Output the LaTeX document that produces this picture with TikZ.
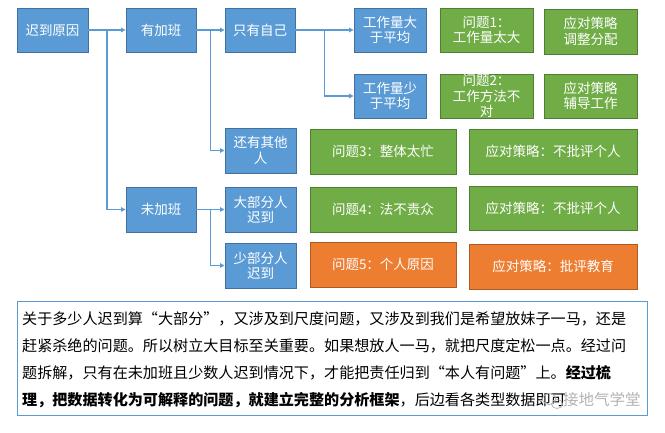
\documentclass[tikz,border=0pt]{standalone}
\usepackage{fontspec}
\setmainfont{Liberation Sans}
\newfontfamily\cjk{Noto Sans CJK SC}
\usetikzlibrary{arrows.meta,calc}
\definecolor{bfill}{RGB}{91,155,213}
\definecolor{bline}{RGB}{65,113,156}
\definecolor{gfill}{RGB}{112,173,71}
\definecolor{gline}{RGB}{80,126,50}
\definecolor{ofill}{RGB}{237,125,49}
\definecolor{oline}{RGB}{174,90,33}
\definecolor{conncol}{RGB}{91,155,213}
\tikzset{
  boxbase/.style={draw, line width=0.9pt, text=white, align=center, inner sep=0pt,
    font=\cjk\fontsize{13.5}{15.5}\selectfont, minimum height=44pt},
  bluebox/.style={boxbase, fill=bfill, draw=bline},
  greenbox/.style={boxbase, fill=gfill, draw=gline},
  orangebox/.style={boxbase, fill=ofill, draw=oline},
  conn/.style={draw=conncol, line width=1.1pt, -{Triangle[width=4.5pt,length=4.5pt]}},
  para/.style={anchor=base west, inner sep=0pt, text=black, font=\cjk\fontsize{15.1}{18}\selectfont},
}
\begin{document}
\begin{tikzpicture}[x=1pt,y=-1pt]
\useasboundingbox (0,0) rectangle (665,432);
\fill[white] (0,0) rectangle (665,432);
% column 1-3
\node[bluebox, minimum width=71pt] (a) at (52.5,30) {迟到原因};
\node[bluebox, minimum width=70pt] (b) at (161,30) {有加班};
\node[bluebox, minimum width=70pt] (c) at (260,30) {只有自己};
\node[bluebox, minimum width=71pt, minimum height=45pt] (f) at (260.5,150.5) {还有其他\\人};
\node[bluebox, minimum width=70pt, minimum height=45pt] (g) at (161,209.5) {未加班};
\node[bluebox, minimum width=71pt, minimum height=45pt] (h) at (260.5,209.5) {大部分人\\迟到};
\node[bluebox, minimum width=71pt, minimum height=45pt] (i) at (260.5,265.5) {少部分人\\迟到};
% right part
\node[bluebox, minimum width=72pt] (d) at (390,30) {工作量大\\于平均};
\node[bluebox, minimum width=72pt] (e) at (390,96) {工作量少\\于平均};
\node[greenbox, minimum width=93pt] (p1) at (486.5,30) {问题1：\\工作量太大};
\node[greenbox, minimum width=93pt, minimum height=45pt] (s1) at (590.5,31.5) {应对策略\\调整分配};
\node[greenbox, minimum width=93pt] (p2) at (486.5,96) {问题2：\\工作方法不\\对};
\node[greenbox, minimum width=93pt] (s2) at (590.5,96) {应对策略\\辅导工作};
\node[greenbox, minimum width=146pt, minimum height=45pt] (p3) at (383,151.5) {问题3：整体太忙};
\node[greenbox, minimum width=168pt, minimum height=45pt] (s3) at (553,151.5) {应对策略：不批评个人};
\node[greenbox, minimum width=146pt, minimum height=45pt] (p4) at (383,209.5) {问题4：法不责众};
\node[greenbox, minimum width=168pt] (s4) at (553,208) {应对策略：不批评个人};
\node[orangebox, minimum width=146pt, minimum height=45pt] (p5) at (383,264.5) {问题5：个人原因};
\node[orangebox, minimum width=168pt, minimum height=45pt] (s5) at (553,266.5) {应对策略：批评教育};
% connectors
\draw[conn] (a.east) -- (b.west);
\draw[conn] ($(a.east)!0.5!(b.west)$) |- (g.west);
\draw[conn] (b.east) -- (c.west);
\draw[conn] ($(b.east)!0.5!(c.west)$) |- (f.west);
\draw[conn] (c.east) -- (d.west);
\draw[conn] ($(c.east)!0.5!(d.west)$) |- (e.west);
\draw[conn] (g.east) -- (h.west);
\draw[conn] ($(g.east)!0.5!(h.west)$) |- (i.west);
% text box
\node[draw=bfill, line width=1pt, minimum width=630pt, minimum height=114pt, inner sep=0pt] (tb) at (332,358) {};
\node[para] (l1) at (22,324) {关于多少人迟到算“大部分”，又涉及到尺度问题，又涉及到我们是希望放妹子一马，还是};
\node[para] (l2) at (22,351) {赶紧杀绝的问题。所以树立大目标至关重要。如果想放人一马，就把尺度定松一点。经过问};
\node[para] (l3) at (22,378) {题拆解，只有在未加班且少数人迟到情况下，才能把责任归到“本人有问题”上。\textbf{经过梳}};
\node[para] (l4) at (22,405) {\textbf{理，把数据转化为可解释的问题，就建立完整的分析框架}，后边看各类型数据即可};
% watermark
\node[anchor=base west, inner sep=0pt, text=gray!70, opacity=0.85, font=\cjk\fontsize{15.5}{18}\selectfont] (wm) at (563,405) {接地气学堂};
\draw[gray!60, line width=0.7pt] (549,399) ellipse (6.5pt and 5.5pt);
\draw[gray!60, line width=0.7pt] (557,404) ellipse (5.5pt and 4.5pt);
\end{tikzpicture}
\end{document}
